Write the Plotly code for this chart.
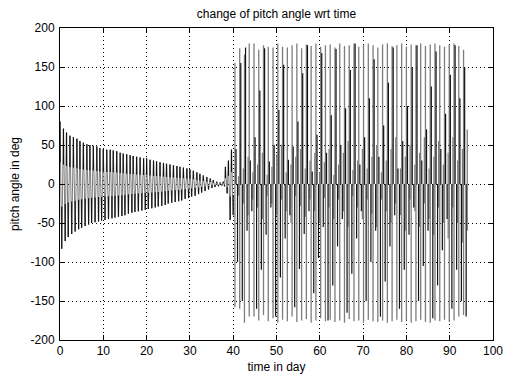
import plotly.graph_objects as go

# ---------------- data ----------------
# Phase 1: slowly decaying libration (times of positive peaks, peak values, following negative peaks)
calm_days = [0.0, 0.8, 1.5, 2.3, 3.1, 3.9, 4.6, 5.4, 6.2, 6.9, 7.7, 8.5, 9.2, 10.0, 10.8,
             11.6, 12.3, 13.1, 13.9, 14.6, 15.4, 16.2, 16.9, 17.7, 18.5, 19.3, 20.0, 20.8,
             21.6, 22.3, 23.1, 23.9, 24.6, 25.4, 26.2, 27.0, 27.7, 28.5, 29.3, 30.0, 30.8,
             31.6, 32.3, 33.1, 33.9, 34.7, 35.4, 36.2, 37.0, 37.7, 38.2, 38.9, 39.6]
calm_high = [80, 71, 66, 62, 60, 58, 55, 53, 51, 50, 49, 48, 46, 45, 44, 44, 43, 42, 40, 39,
             38, 37, 36, 35, 34, 33, 33, 31, 30, 29, 28, 27, 26, 25, 24, 23, 22, 21, 20, 19,
             17, 15, 13, 11, 9, 7, 5, 3, 2, 3, 22, 30, 44]
calm_low_days = [0.4, 1.2, 1.9, 2.7, 3.5, 4.3, 5.0, 5.8, 6.6, 7.3, 8.1, 8.9, 9.6, 10.4, 11.2,
                 12.0, 12.7, 13.5, 14.3, 15.0, 15.8, 16.6, 17.3, 18.1, 18.9, 19.7, 20.4, 21.2,
                 22.0, 22.7, 23.5, 24.3, 25.0, 25.8, 26.6, 27.4, 28.1, 28.9, 29.7, 30.4, 31.2,
                 32.0, 32.7, 33.5, 34.3, 35.1, 35.8, 36.6, 37.4, 38.0, 38.6, 39.3, 40.0]
calm_low = [-83, -73, -68, -64, -61, -58, -56, -54, -52, -50, -49, -48, -47, -46, -45, -44,
            -43, -42, -41, -40, -38, -37, -36, -35, -34, -33, -32, -31, -30, -29, -28, -27,
            -25, -24, -23, -22, -21, -19, -18, -16, -15, -13, -11, -9, -7, -5, -4, -3, -2,
            -3, -12, -46, -40]

# Phase 2: tumbling (angle wraps between +180 and -180)
tumble_days = [40.4, 41.5, 42.6, 43.7, 44.8, 45.9, 47.0, 48.1, 49.2, 50.3, 51.4, 52.5, 53.6,
               54.7, 55.8, 56.9, 58.0, 59.1, 60.2, 61.3, 62.4, 63.5, 64.6, 65.7, 66.8, 67.9,
               69.0, 70.1, 71.2, 72.3, 73.4, 74.5, 75.6, 76.7, 77.8, 78.9, 80.0, 81.1, 82.2,
               83.3, 84.4, 85.5, 86.6, 87.7, 88.8, 89.9, 91.0, 92.1, 93.2]
tumble_high = [155, 174, 166, 180, 180, 172, 178, 176, 175, 180, 176, 175, 178, 180, 174, 179,
               177, 180, 176, 178, 179, 175, 180, 177, 178, 180, 176, 179, 180, 178, 175, 179,
               180, 177, 178, 180, 176, 179, 178, 180, 177, 179, 180, 178, 176, 179, 180, 177, 172]
tumble_low = [-158, -160, -178, -170, -170, -175, -168, -176, -172, -178, -174, -176, -170,
              -177, -175, -173, -178, -175, -172, -176, -174, -177, -175, -178, -173, -176,
              -175, -178, -174, -176, -177, -175, -178, -176, -174, -177, -175, -178, -176,
              -174, -177, -178, -175, -176, -174, -177, -175, -170, -168]
spike_high = [45, 155, 175, 30, 60, 120, 174, 29, 50, 95, 153, 31, 48, 80, 142, 178, 16, 63,
              168, 40, 88, 173, 50, 97, 146, 180, 25, 60, 110, 160, 35, 75, 130, 175, 20, 55,
              100, 150, 178, 30, 70, 125, 170, 45, 90, 140, 178, 110, 150]
spike_low = [-100, -150, -60, -35, -160, -110, -65, -30, -170, -120, -70, -40, -158, -109, -64,
             -35, -140, -95, -55, -175, -130, -80, -45, -165, -115, -70, -35, -150, -100, -60,
             -170, -125, -80, -40, -160, -110, -65, -30, -150, -105, -60, -172, -130, -85, -45,
             -160, -110, -150, -170]
# small libration band around zero between the wraps
band_high = [10, 20, 35, 15, 25, 40, 12, 22, 38, 50, 15, 25, 35, 45, 20, 30, 40, 15, 28, 45,
             12, 25, 40, 55, 18, 30, 45, 20, 35, 50, 15, 30, 45, 60, 20, 35, 50, 25, 40, 60,
             20, 35, 55, 25, 40, 60, 30, 45, 70]
band_low = [-15, -25, -40, -20, -30, -45, -15, -25, -40, -20, -35, -50, -15, -28, -42, -20,
            -35, -50, -18, -30, -45, -20, -35, -55, -15, -30, -45, -20, -38, -55, -20, -35,
            -50, -25, -40, -60, -20, -35, -55, -25, -45, -65, -30, -50, -70, -30, -50, -75, -60]

x_ticks = [0, 10, 20, 30, 40, 50, 60, 70, 80, 90, 100]
y_ticks = [-200, -150, -100, -50, 0, 50, 100, 150, 200]

GRAY = "#7d7d7d"
BLACK = "#111111"

# ---------------- build traces ----------------
zx, zy = [], []
for i in range(len(calm_days)):
    zx += [calm_days[i], calm_low_days[i]]
    zy += [calm_high[i], calm_low[i]]

tx, ty = [], []
for i in range(len(calm_days)):
    tx += [calm_days[i], calm_days[i], None, calm_low_days[i], calm_low_days[i], None]
    ty += [calm_high[i], calm_high[i] * 0.35, None, calm_low[i], calm_low[i] * 0.35, None]

gx, gy = [], []
for i in range(len(tumble_days)):
    gx += [tumble_days[i], tumble_days[i], None,
           tumble_days[i] + 0.85, tumble_days[i] + 0.85, None]
    gy += [tumble_low[i], tumble_high[i], None, band_low[i], band_high[i], None]

bx, by = [], []
for i in range(len(tumble_days)):
    bx += [tumble_days[i] + 0.25, tumble_days[i] + 0.25, None,
           tumble_days[i] + 0.6, tumble_days[i] + 0.6, None]
    by += [0, spike_high[i], None, 0, spike_low[i], None]

fig = go.Figure()
fig.add_trace(go.Scatter(x=zx, y=zy, mode="lines", line=dict(color=GRAY, width=1),
                         hoverinfo="skip", showlegend=False))
fig.add_trace(go.Scatter(x=gx, y=gy, mode="lines", line=dict(color=GRAY, width=1.3),
                         hoverinfo="skip", showlegend=False))
fig.add_trace(go.Scatter(x=tx, y=ty, mode="lines", line=dict(color=BLACK, width=1.2),
                         hoverinfo="skip", showlegend=False))
fig.add_trace(go.Scatter(x=bx, y=by, mode="lines", line=dict(color=BLACK, width=1.2),
                         hoverinfo="skip", showlegend=False))

font = dict(family="Liberation Sans, Arial, sans-serif", size=12, color="black")
axis_common = dict(
    showline=True, linecolor="black", linewidth=1, mirror="ticks",
    ticks="inside", ticklen=5, tickcolor="black", tickwidth=1,
    showgrid=True, gridcolor="black", gridwidth=1, griddash="1px,3px",
    zeroline=False, tickfont=font, automargin=False,
)

# the page body adds an 8px offset, so the figure is 8px smaller and margins shifted
fig.update_layout(
    width=506, height=366,
    margin=dict(l=52, r=21, t=20, b=34),
    paper_bgcolor="white", plot_bgcolor="white",
    font=font,
    title=dict(text="change of pitch angle wrt time", x=0.5, xref="paper",
               y=1 - 5.5 / 366, yref="container", yanchor="middle", xanchor="center",
               font=dict(family="Liberation Sans, Arial, sans-serif", size=12, color="black")),
    xaxis=dict(range=[0, 100], tickvals=x_ticks, ticktext=[str(v) for v in x_ticks],
               ticklabelstandoff=0,
               title=dict(text="time in day", standoff=7, font=font), **axis_common),
    yaxis=dict(range=[-200, 200], tickvals=y_ticks, ticktext=[str(v) for v in y_ticks],
               ticklabelstandoff=2,
               title=dict(text="pitch angle in deg", standoff=12, font=font), **axis_common),
)

fig.write_html("out.html")
